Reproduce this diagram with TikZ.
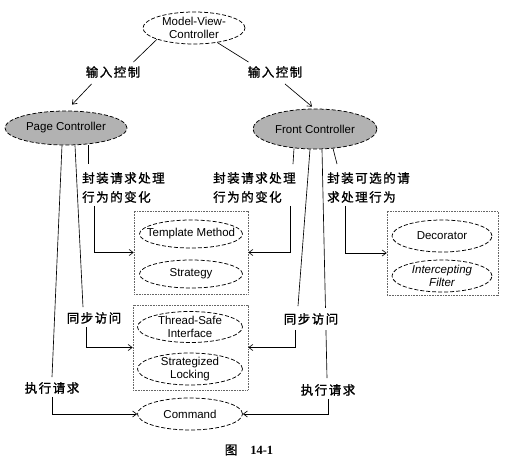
\documentclass[tikz,border=0pt]{standalone}
\usepackage{fontspec}
\setmainfont{Liberation Sans}
\newfontfamily\cjk[LetterSpace=12,FakeBold=1.2]{Noto Sans CJK SC}
\newfontfamily\cjkplain[FakeBold=1.2]{Noto Sans CJK SC}
\newfontfamily\serifnum{Liberation Serif}
\usetikzlibrary{arrows.meta,shapes.geometric}
\begin{document}
\begin{tikzpicture}[x=1pt,y=-1pt,
  every node/.style={inner sep=0pt},
  ell/.style={ellipse, draw, dash pattern=on 4pt off 2pt, line width=0.75pt},
  etxt/.style={font=\fontsize{11.5}{13.5}\selectfont, align=center},
  lbl/.style={font=\cjk\fontsize{12.5}{19}\selectfont, align=left, inner ysep=3pt},
  grp/.style={draw=black!60, dash pattern=on 0.8pt off 0.8pt, line width=0.6pt},
  conn/.style={line width=0.65pt},
  arr/.style={conn, -{Straight Barb[length=4pt,width=6pt]}}]

\useasboundingbox (0,0) rectangle (515,458);

% ellipses
\node[ell, minimum width=102pt, minimum height=32pt, label={[etxt]center:Model-View-\\Controller}] (mvc) at (194,28) {};
\node[ell, fill=black!30, minimum width=122pt, minimum height=34pt, label={[etxt]center:Page Controller}] (pc) at (66,128) {};
\node[ell, fill=black!30, minimum width=124pt, minimum height=40pt, label={[etxt]center:Front Controller}] (fc) at (315,129) {};

% groups
\node[grp, minimum width=114pt, minimum height=83pt] (box1) at (191,252.5) {};
\node[grp, minimum width=115pt, minimum height=85pt] (box2) at (190.5,347.5) {};
\node[grp, minimum width=111pt, minimum height=84pt] (box3) at (442.5,253) {};

\node[ell, minimum width=103pt, minimum height=28pt, label={[etxt]center:Template Method}] (tm) at (191,234) {};
\node[ell, minimum width=103pt, minimum height=28pt, label={[etxt]center:Strategy}] (st) at (191,274) {};
\node[ell, minimum width=105pt, minimum height=31pt, label={[etxt]center:Thread-Safe\\Interface}] (ts) at (190,327) {};
\node[ell, minimum width=105pt, minimum height=32pt, label={[etxt]center:Strategized\\Locking}] (sl) at (190,369) {};
\node[ell, minimum width=105pt, minimum height=32pt, label={[etxt]center:Command}] (cmd) at (190,414) {};
\node[ell, minimum width=100pt, minimum height=32pt, label={[etxt]center:Decorator}] (dec) at (442,236) {};
\node[ell, minimum width=100pt, minimum height=32pt, label={[etxt, font=\fontsize{11.5}{13.5}\selectfont\itshape]center:Intercepting\\Filter}] (icf) at (442,276) {};

% labels
\node[lbl] (in1) at (113,72) {输入控制};
\node[lbl] (in2) at (275,72) {输入控制};
\node[lbl, anchor=west] (lab1) at (82,187.5) {封装请求处理\\行为的变化};
\node[lbl, anchor=west] (lab2) at (213,187.5) {封装请求处理\\行为的变化};
\node[lbl, anchor=west] (lab4) at (327,187.5) {封装可选的请\\求处理行为};
\node[lbl] (lab3) at (94,318) {同步访问};
\node[lbl] (lab7) at (52,388) {执行请求};
\node[lbl] (lab8) at (328,390) {执行请求};

% top connectors
\draw[conn] (mvc.197) -- ([xshift=-7pt,yshift=1pt]in1.north east);
\draw[arr] ([xshift=6pt,yshift=-3pt]in1.south west) -- ([xshift=6pt,yshift=6pt]pc.north);
\draw[conn] (mvc.-32) -- ([xshift=1pt,yshift=1pt]in2.north west);
\draw[arr] ([xshift=10pt,yshift=-3pt]in2.south) -- ([xshift=-3pt,yshift=2pt]fc.north);

% Page Controller side
\draw[conn] ([xshift=22pt]pc.south) -- ([xshift=6pt,yshift=5pt]lab1.north west);
\draw[arr] ([xshift=12pt]lab1.south west) |- (box1.west);
\draw[conn] ([xshift=9pt]pc.south) -- ([xshift=-11pt,yshift=2pt]lab3.north);
\draw[arr] ([xshift=-8pt]lab3.south) |- (box2.west);
\draw[conn] ([xshift=-4pt]pc.south) -- ([yshift=2pt]lab7.north);
\draw[arr] (lab7.south) |- (cmd.west);

% Front Controller side
\draw[conn] ([xshift=-21pt,yshift=1pt]fc.south) -- ([xshift=80pt,yshift=5pt]lab2.north west);
\draw[arr] ([xshift=77pt]lab2.south west) |- (box1.east);
\draw[conn] ([xshift=7pt]fc.south) -- ([xshift=-1pt,yshift=3pt]lab8.north);
\node[lbl, fill=white, inner ysep=5pt] (lab5) at (311,319) {同步访问};
\draw[conn] ([xshift=-5pt]fc.south) -- ([xshift=-13pt,yshift=2pt]lab5.north);
\draw[arr] ([xshift=-16pt]lab5.south) |- (box2.east);
\draw[arr] (lab8.south) |- (cmd.east);
\draw[conn] ([xshift=18pt,yshift=1pt]fc.south) -- ([xshift=10pt,yshift=5pt]lab4.north west);
\draw[arr] ([xshift=18pt]lab4.south west) |- (box3.west);

% caption
\node (cap) at (249,450) {{\cjkplain\fontsize{12.5}{14}\selectfont 图}\hspace{13pt}{\serifnum\bfseries\fontsize{12.5}{14}\selectfont 14-1}};
\end{tikzpicture}
\end{document}
